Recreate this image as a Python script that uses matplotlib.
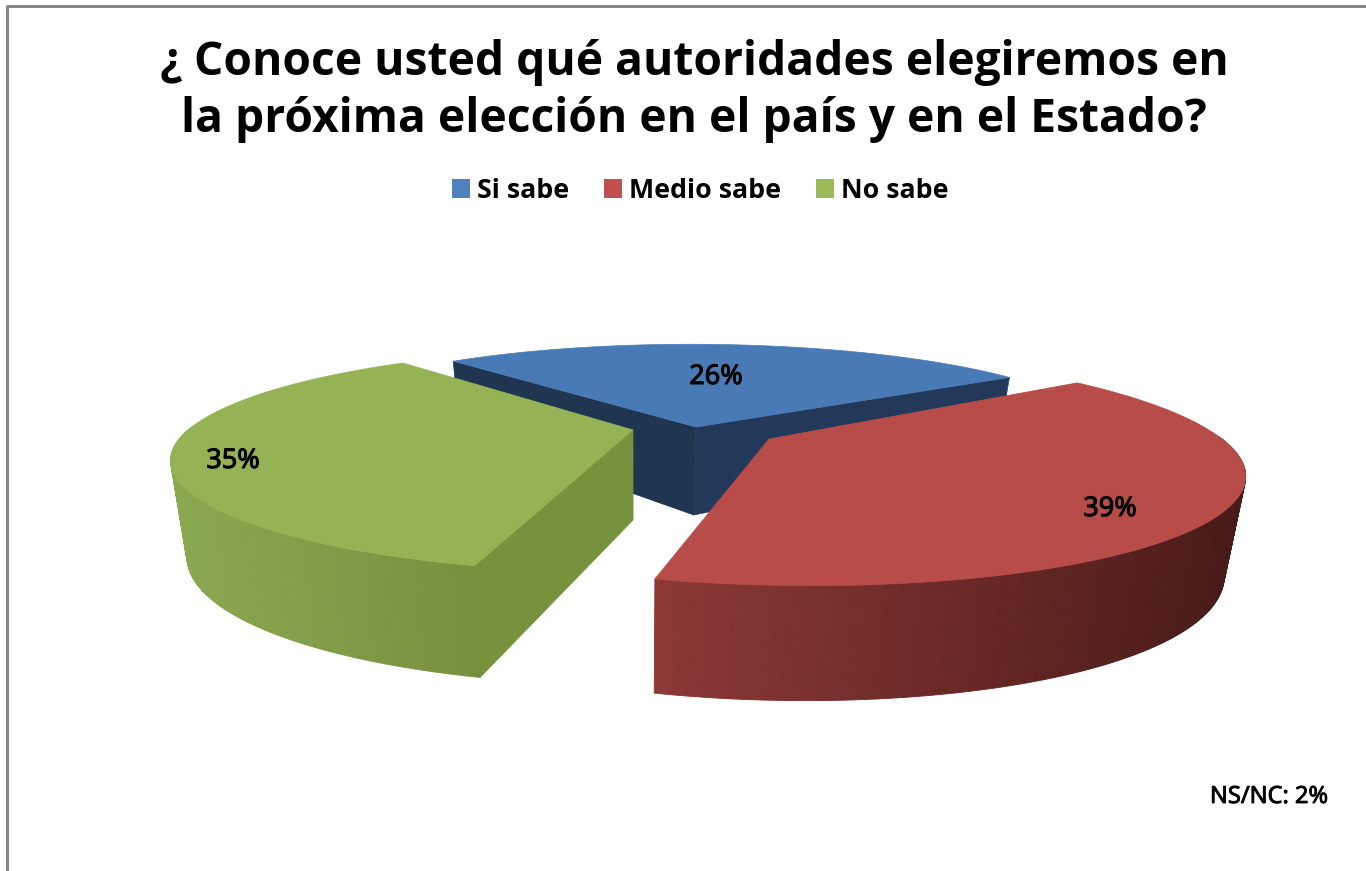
import numpy as np
import matplotlib
matplotlib.use('Agg')
import matplotlib.pyplot as plt
from matplotlib.collections import PolyCollection
from matplotlib.patches import Patch, Polygon
import matplotlib.patheffects as pe

plt.rcParams['font.family'] = ['Open Sans', 'DejaVu Sans']

titleText = '¿ Conoce usted qué autoridades elegiremos en\nla próxima elección en el país y en el Estado?'
labels = ['Si sabe', 'Medio sabe', 'No sabe']
values = [26, 39, 35]
pctLabels = ['26%', '39%', '35%']
noteText = 'NS/NC: 2%'

# look of the fake 3d pie, one entry per slice
startAngle = 128.8
apexX = [696, 769, 633]
apexY = [427, 439, 430]
radiusX = [410, 453, 445]
radiusY = [91, 111, 104]
persp = [0.1, 0.243, 0.27]
wallHeight = [88, 92, 90]
topColors = ['#4a7ab5', '#b84c49', '#95b355']
legendColors = ['#4f81bd', '#c0504d', '#9bbb59']
wallLeft = ['#1f3550', '#8c3836', '#8aa84f']
wallRight = ['#22395a', '#481a18', '#76903f']
radialColors = ['#1f3550', '#76923c', '#76923c']
labelPos = [(716, 377), (1110, 509), (233, 461)]
vanishX = 635


def project(i, angle):
    X = np.cos(np.radians(angle))
    Y = np.sin(np.radians(angle))
    s = 1 / (1 + persp[i] * Y)
    sx = apexX[i] + radiusX[i] * X * s + (apexX[i] - vanishX) * (s - 1)
    sy = apexY[i] - radiusY[i] * Y * s
    return sx, sy, wallHeight[i] * (1 - 0.25 * Y)


def lower(sx, sy, h):
    return vanishX + (sx - vanishX) * 0.965, sy + h


def blend(c1, c2, t):
    a = np.array(matplotlib.colors.to_rgb(c1))
    b = np.array(matplotlib.colors.to_rgb(c2))
    return tuple(a + (b - a) * t)


fig = plt.figure(figsize=(13.66, 8.71), dpi=100)
ax = fig.add_axes([0, 0, 1, 1])
ax.set_xlim(0, 1366)
ax.set_ylim(871, 0)
ax.axis('off')

ax.plot([6.5, 6.5, 1366], [871, 6.5, 6.5], color='#868686', lw=2.2, zorder=1)

ends = startAngle - np.cumsum(values) * 3.6
starts = np.concatenate([[startAngle], ends[:-1]])


def radialWall(i, angle, color, z):
    sx, sy, h = project(i, angle)
    bx, by = lower(sx, sy, h)
    ax0, ay0 = apexX[i], apexY[i]
    bx0, by0 = lower(ax0, ay0, wallHeight[i])
    ax.add_patch(Polygon([(ax0, ay0), (sx, sy), (bx, by), (bx0, by0)], fc=color, ec=color, lw=0.5, zorder=z))


def outerWall(i, z):
    # only the part of the rim that faces the viewer
    a = np.linspace(starts[i], ends[i], 300)
    a = a[np.sin(np.radians(a)) < 0.03]
    if len(a) < 2:
        return
    polys = []
    xs = []
    for a1, a2 in zip(a[:-1], a[1:]):
        x1, y1, h1 = project(i, a1)
        x2, y2, h2 = project(i, a2)
        bx1, by1 = lower(x1, y1, h1)
        bx2, by2 = lower(x2, y2, h2)
        polys.append([(x1, y1), (x2, y2), (bx2, by2), (bx1, by1)])
        xs.append((x1 + x2) / 2)
    xs = np.array(xs)
    t = (xs - xs.min()) / (xs.max() - xs.min())
    cols = [blend(wallLeft[i], wallRight[i], v) for v in t]
    ax.add_collection(PolyCollection(polys, facecolors=cols, edgecolors=cols, linewidths=0.6, zorder=z))


def top(i, z):
    a = np.linspace(starts[i], ends[i], 200)
    pts = [(apexX[i], apexY[i])] + [project(i, v)[:2] for v in a]
    ax.add_patch(Polygon(pts, fc=topColors[i], ec=topColors[i], lw=0.5, zorder=z))


# back to front: blue, green, red
radialWall(0, starts[0], wallLeft[0], 2)
radialWall(0, ends[0], wallRight[0], 2)
top(0, 3)
outerWall(2, 4)
radialWall(2, starts[2], radialColors[2], 4)
top(2, 5)
outerWall(1, 6)
top(1, 7)

for pos, txt in zip(labelPos, pctLabels):
    ax.text(pos[0], pos[1], txt, ha='center', va='center', fontsize=19.5, color='black', zorder=10,
            family=['Noto Sans', 'DejaVu Sans'],
            path_effects=[pe.withStroke(linewidth=0.7, foreground='black')])

ax.text(694, 91, titleText, ha='center', va='center', fontsize=33.2, fontweight='bold',
        color='black', linespacing=1.27)

handles = [Patch(fc=c, ec='none') for c in legendColors]
ax.legend(handles, labels, ncol=3, loc='center', bbox_to_anchor=(700.5 / 1366, 1 - 191 / 871), frameon=False,
          prop={'size': 19.3, 'weight': 'bold'}, handlelength=0.67, handleheight=0.67,
          handletextpad=0.27, columnspacing=1.3)

ax.text(1269, 797, noteText, ha='center', va='center', fontsize=17, color='black',
        family=['Noto Sans', 'DejaVu Sans'],
        path_effects=[pe.withStroke(linewidth=0.6, foreground='black')])

fig.savefig('out.png', dpi=100)
